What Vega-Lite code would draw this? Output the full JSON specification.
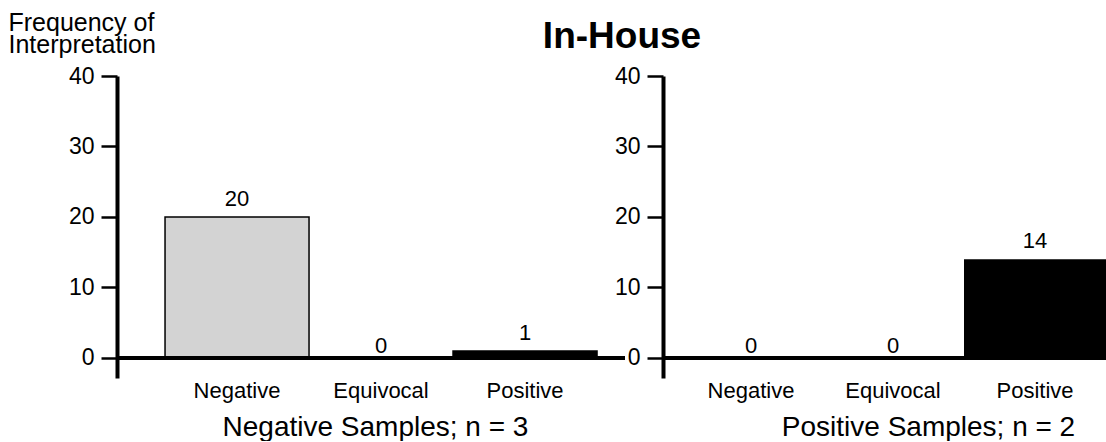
{
  "$schema": "https://vega.github.io/schema/vega-lite/v6.json",
  "padding": {"left": 8, "top": 10, "right": 0, "bottom": 0},
  "autosize": {"type": "pad"},
  "bounds": "flush",
  "spacing": 38,
  "background": "white",
  "config": {
    "font": "Liberation Sans",
    "view": {"stroke": null},
    "axis": {"labelColor": "black", "titleColor": "black", "domainColor": "black", "tickColor": "black", "grid": false, "labelFont": "Liberation Sans", "titleFont": "Liberation Sans"},
    "text": {"font": "Liberation Sans", "color": "black"}
  },
  "title": {"text": "In-House", "font": "Liberation Sans", "fontSize": 37, "fontWeight": "bold", "anchor": "middle", "frame": "group", "baseline": "alphabetic", "offset": 0, "dx": 505, "dy": 75, "color": "black"},
  "hconcat": [
    {
      "width": 508,
      "height": 302,
      "data": {"values": [
        {"interpretation": "Negative", "frequency": 20},
        {"interpretation": "Equivocal", "frequency": 0},
        {"interpretation": "Positive", "frequency": 1}
      ]},
      "layer": [
        {
          "mark": {"type": "bar", "stroke": "black", "strokeWidth": 1.5},
          "encoding": {
            "x": {"field": "interpretation", "type": "nominal", "sort": ["Negative", "Equivocal", "Positive"],
              "scale": {"paddingInner": 0, "paddingOuter": 0.2639, "align": 0.632},
              "axis": {"orient": "bottom", "domain": false, "ticks": false, "labelAngle": 0, "labelFontSize": 22, "labelPadding": 2,
                "title": "Negative Samples; n = 3", "titleFontSize": 28, "titleFontWeight": "normal", "titleX": 258, "titleY": 57, "titleBaseline": "alphabetic", "titleAlign": "center"}},
            "y": {"field": "frequency", "type": "quantitative",
              "scale": {"domain": [-2.84, 40], "nice": false, "zero": false},
              "axis": {"values": [0, 10, 20, 30, 40], "domainWidth": 4, "tickSize": 16, "tickWidth": 2.5, "labelFontSize": 23, "labelPadding": 7,
                "title": ["Frequency of", "Interpretation"], "titleAngle": 0, "titleAlign": "left", "titleBaseline": "top", "titleX": -109, "titleY": -66,
                "titleFontSize": 25, "titleFontWeight": "normal", "titleLineHeight": 22}},
            "color": {"field": "interpretation", "type": "nominal",
              "scale": {"domain": ["Negative", "Equivocal", "Positive"], "range": ["#d3d3d3", "#ffffff", "#000000"]}, "legend": null}
          }
        },
        {
          "data": {"values": [{"base": 0}]},
          "mark": {"type": "rule", "strokeWidth": 4, "color": "black"},
          "encoding": {"y": {"field": "base", "type": "quantitative"}}
        },
        {
          "transform": [{"filter": "datum.frequency > 0"}],
          "mark": {"type": "text", "dy": -11, "fontSize": 22, "baseline": "alphabetic"},
          "encoding": {
            "x": {"field": "interpretation", "type": "nominal", "sort": ["Negative", "Equivocal", "Positive"]},
            "y": {"field": "frequency", "type": "quantitative"},
            "text": {"field": "frequency", "type": "quantitative"}
          }
        },
        {
          "transform": [{"filter": "datum.frequency == 0"}],
          "mark": {"type": "text", "dy": -5, "fontSize": 22, "baseline": "alphabetic"},
          "encoding": {
            "x": {"field": "interpretation", "type": "nominal", "sort": ["Negative", "Equivocal", "Positive"]},
            "y": {"field": "frequency", "type": "quantitative"},
            "text": {"field": "frequency", "type": "quantitative"}
          }
        }
      ]
    },
    {
      "width": 443,
      "height": 302,
      "data": {"values": [
        {"interpretation": "Negative", "frequency": 0},
        {"interpretation": "Equivocal", "frequency": 0},
        {"interpretation": "Positive", "frequency": 14}
      ]},
      "layer": [
        {
          "mark": {"type": "bar", "strokeWidth": 0},
          "encoding": {
            "x": {"field": "interpretation", "type": "nominal", "sort": ["Negative", "Equivocal", "Positive"],
              "scale": {"paddingInner": 0, "paddingOuter": 0.0599, "align": 1},
              "axis": {"orient": "bottom", "domain": false, "ticks": false, "labelAngle": 0, "labelFontSize": 22, "labelPadding": 2,
                "title": "Positive Samples; n = 2", "titleFontSize": 28, "titleFontWeight": "normal", "titleX": 265, "titleY": 57, "titleBaseline": "alphabetic", "titleAlign": "center"}},
            "y": {"field": "frequency", "type": "quantitative",
              "scale": {"domain": [-2.84, 40], "nice": false, "zero": false},
              "axis": {"values": [0, 10, 20, 30, 40], "domainWidth": 4, "tickSize": 16, "tickWidth": 2.5, "labelFontSize": 23, "labelPadding": 7, "title": null}},
            "color": {"field": "interpretation", "type": "nominal",
              "scale": {"domain": ["Negative", "Equivocal", "Positive"], "range": ["#d3d3d3", "#ffffff", "#000000"]}, "legend": null}
          }
        },
        {
          "data": {"values": [{"base": 0}]},
          "mark": {"type": "rule", "strokeWidth": 4, "color": "black"},
          "encoding": {"y": {"field": "base", "type": "quantitative"}}
        },
        {
          "transform": [{"filter": "datum.frequency > 0"}],
          "mark": {"type": "text", "dy": -11, "fontSize": 22, "baseline": "alphabetic"},
          "encoding": {
            "x": {"field": "interpretation", "type": "nominal", "sort": ["Negative", "Equivocal", "Positive"]},
            "y": {"field": "frequency", "type": "quantitative"},
            "text": {"field": "frequency", "type": "quantitative"}
          }
        },
        {
          "transform": [{"filter": "datum.frequency == 0"}],
          "mark": {"type": "text", "dy": -5, "fontSize": 22, "baseline": "alphabetic"},
          "encoding": {
            "x": {"field": "interpretation", "type": "nominal", "sort": ["Negative", "Equivocal", "Positive"]},
            "y": {"field": "frequency", "type": "quantitative"},
            "text": {"field": "frequency", "type": "quantitative"}
          }
        }
      ]
    }
  ]
}
